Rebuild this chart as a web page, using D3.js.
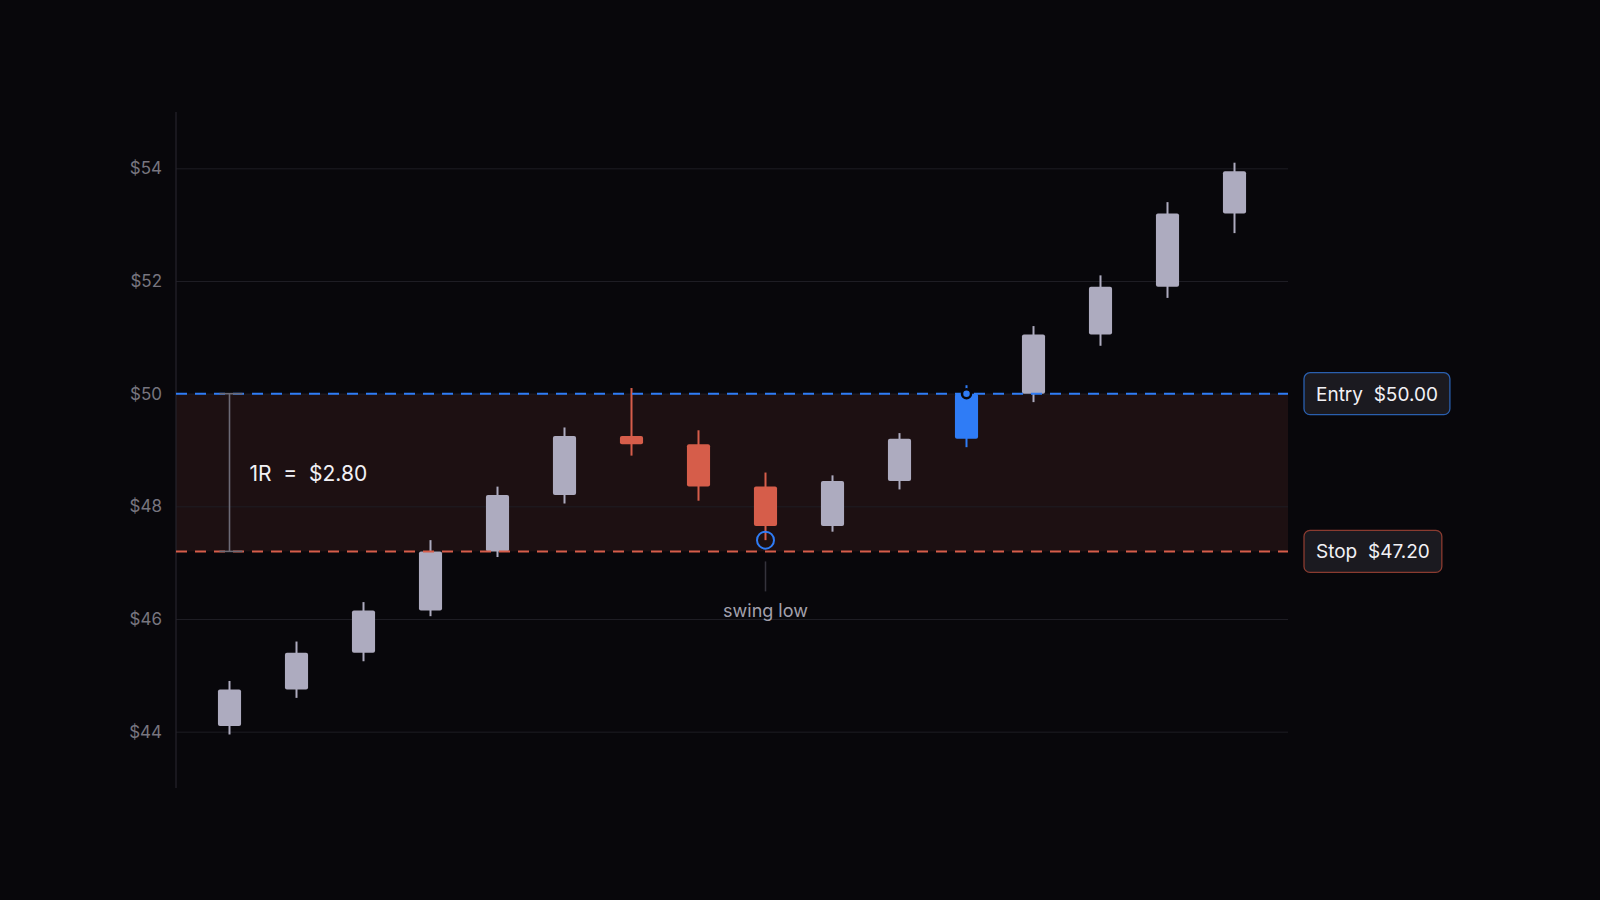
<!DOCTYPE html>
<html>
<head>
<meta charset="utf-8">
<script src="https://cdn.jsdelivr.net/npm/d3@7"></script>
<style>
  html, body { margin: 0; padding: 0; background: #08070b; }
  svg { display: block; font-family: Inter, "Noto Sans", sans-serif; }
</style>
</head>
<body>
<svg id="chart" width="1600" height="900"></svg>
<script>
// candle data
const opens  = [44.10, 44.75, 45.40, 46.15, 47.20, 48.20, 49.25, 49.10, 48.35, 47.65, 48.45, 49.20, 50.00, 51.05, 51.90, 53.20];
const closes = [44.75, 45.40, 46.15, 47.20, 48.20, 49.25, 49.10, 48.35, 47.65, 48.45, 49.20, 50.00, 51.05, 51.90, 53.20, 53.95];
const highs  = [44.90, 45.60, 46.30, 47.40, 48.35, 49.40, 50.10, 49.35, 48.60, 48.55, 49.30, 50.15, 51.20, 52.10, 53.40, 54.10];
const lows   = [43.95, 44.60, 45.25, 46.05, 47.10, 48.05, 48.90, 48.10, 47.40, 47.55, 48.30, 49.05, 49.85, 50.85, 51.70, 52.85];

const yTicks = [44, 46, 48, 50, 52, 54];
const entryPrice = 50.00;
const stopPrice = 47.20;
const entryIndex = 11;
const swingLowIndex = 8;

const W = 1600, H = 900;
const plot = { left: 176, right: 1288, top: 112, bottom: 788 };

const colors = {
    bg: '#08070b',
    grid: '#1e1d24',
    axis: '#25242c',
    tick: '#77757f',
    up: '#adabbf',
    down: '#d65d4a',
    entry: '#2f7cf6',
    stop: '#d65d4a',
    band: '#1d1012',
    bracket: '#6c6a76'
};

const candles = opens.map((o, i) => ({
    i, open: o, close: closes[i], high: highs[i], low: lows[i]
}));

const svg = d3.select('#chart');
svg.append('rect').attr('width', W).attr('height', H).attr('fill', colors.bg);

const x = d3.scaleBand()
    .domain(candles.map(d => d.i))
    .range([plot.left + 20, plot.right - 20]);
const y = d3.scaleLinear()
    .domain([43, 55])
    .range([plot.bottom, plot.top]);

const cx = i => x(i) + x.bandwidth() / 2;
const bodyW = x.bandwidth() * 0.345;

// risk band between entry and stop
svg.append('rect')
    .attr('x', plot.left)
    .attr('y', y(entryPrice))
    .attr('width', plot.right - plot.left)
    .attr('height', y(stopPrice) - y(entryPrice))
    .attr('fill', colors.band);

// grid + y axis
const yAxis = d3.axisLeft(y)
    .tickValues(yTicks)
    .tickFormat(d => `$${d}`)
    .tickSize(-(plot.right - plot.left))
    .tickPadding(14);

const yAxisGroup = svg.append('g')
    .attr('class', 'y-axis')
    .attr('transform', `translate(${plot.left},0)`)
    .call(yAxis);
yAxisGroup.select('.domain').remove();
yAxisGroup.selectAll('.tick line')
    .attr('stroke', colors.grid)
    .attr('stroke-width', 1);
yAxisGroup.selectAll('.tick text')
    .attr('fill', colors.tick)
    .attr('font-size', 17)
    .attr('font-family', 'Inter, "Noto Sans", sans-serif');

svg.append('line')
    .attr('x1', plot.left).attr('x2', plot.left)
    .attr('y1', plot.top).attr('y2', plot.bottom)
    .attr('stroke', colors.axis)
    .attr('stroke-width', 1.2);

// 1R bracket
const bx = cx(0);
const bracket = svg.append('g').attr('stroke', colors.bracket).attr('stroke-width', 1.6);
bracket.append('line').attr('x1', bx).attr('x2', bx).attr('y1', y(entryPrice)).attr('y2', y(stopPrice));
bracket.append('line').attr('x1', bx - 10).attr('x2', bx + 13).attr('y1', y(entryPrice)).attr('y2', y(entryPrice));
bracket.append('line').attr('x1', bx - 10).attr('x2', bx + 13).attr('y1', y(stopPrice)).attr('y2', y(stopPrice));

svg.append('text')
    .attr('x', bx + 20)
    .attr('y', (y(entryPrice) + y(stopPrice)) / 2 + 8)
    .attr('fill', '#f2f1f5')
    .attr('font-size', 21)
    .style('white-space', 'pre')
    .text(`1R  =  $${(entryPrice - stopPrice).toFixed(2)}`);

// candles
const colorOf = d => d.i === entryIndex ? colors.entry : (d.close >= d.open ? colors.up : colors.down);

const candleGroup = svg.append('g').attr('class', 'candles');
candleGroup.selectAll('line.wick')
    .data(candles)
    .enter()
    .append('line')
    .attr('class', 'wick')
    .attr('x1', d => cx(d.i)).attr('x2', d => cx(d.i))
    .attr('y1', d => y(d.high)).attr('y2', d => y(d.low))
    .attr('stroke', colorOf)
    .attr('stroke-width', 2);

candleGroup.selectAll('rect.body')
    .data(candles)
    .enter()
    .append('rect')
    .attr('class', 'body')
    .attr('x', d => cx(d.i) - bodyW / 2)
    .attr('y', d => y(Math.max(d.open, d.close)))
    .attr('width', bodyW)
    .attr('height', d => Math.max(3, Math.abs(y(d.open) - y(d.close))))
    .attr('rx', 2)
    .attr('fill', colorOf);

// entry / stop lines
svg.append('line')
    .attr('x1', plot.left).attr('x2', plot.right)
    .attr('y1', y(stopPrice)).attr('y2', y(stopPrice))
    .attr('stroke', colors.stop)
    .attr('stroke-width', 2)
    .attr('stroke-dasharray', '11 8');
svg.append('line')
    .attr('x1', plot.left).attr('x2', plot.right)
    .attr('y1', y(entryPrice)).attr('y2', y(entryPrice))
    .attr('stroke', colors.entry)
    .attr('stroke-width', 2)
    .attr('stroke-dasharray', '11 8');

// bracket ends on top of dashes
bracket.raise();

// entry marker
svg.append('circle')
    .attr('cx', cx(entryIndex))
    .attr('cy', y(entryPrice))
    .attr('r', 4.5)
    .attr('fill', colors.entry)
    .attr('stroke', colors.bg)
    .attr('stroke-width', 2.5);

// swing low marker
const sl = candles[swingLowIndex];
svg.append('circle')
    .attr('cx', cx(sl.i))
    .attr('cy', y(sl.low))
    .attr('r', 8.5)
    .attr('fill', 'none')
    .attr('stroke', colors.entry)
    .attr('stroke-width', 2);
svg.append('line')
    .attr('x1', cx(sl.i)).attr('x2', cx(sl.i))
    .attr('y1', y(stopPrice) + 10).attr('y2', y(stopPrice) + 40)
    .attr('stroke', '#34333c')
    .attr('stroke-width', 1.5);
svg.append('text')
    .attr('x', cx(sl.i))
    .attr('y', y(stopPrice) + 66)
    .attr('text-anchor', 'middle')
    .attr('fill', '#a3a1ad')
    .attr('font-size', 18)
    .text('swing low');

// price tags on the right
function priceTag(label, price, stroke) {
    const g = svg.append('g').attr('transform', `translate(${plot.right + 16},${y(price)})`);
    const t = g.append('text')
        .attr('x', 12)
        .attr('y', 7)
        .attr('fill', '#f2f1f5')
        .attr('font-size', 19)
        .style('white-space', 'pre')
        .text(`${label}  $${price.toFixed(2)}`);
    const w = t.node().getComputedTextLength() + 24;
    g.insert('rect', 'text')
        .attr('x', 0).attr('y', -21)
        .attr('width', w).attr('height', 42)
        .attr('rx', 6)
        .attr('fill', '#1b1a20')
        .attr('stroke', stroke)
        .attr('stroke-width', 1.3);
}
priceTag('Entry', entryPrice, '#2a5fae');
priceTag('Stop', stopPrice, '#8a3b30');
</script>
</body>
</html>
